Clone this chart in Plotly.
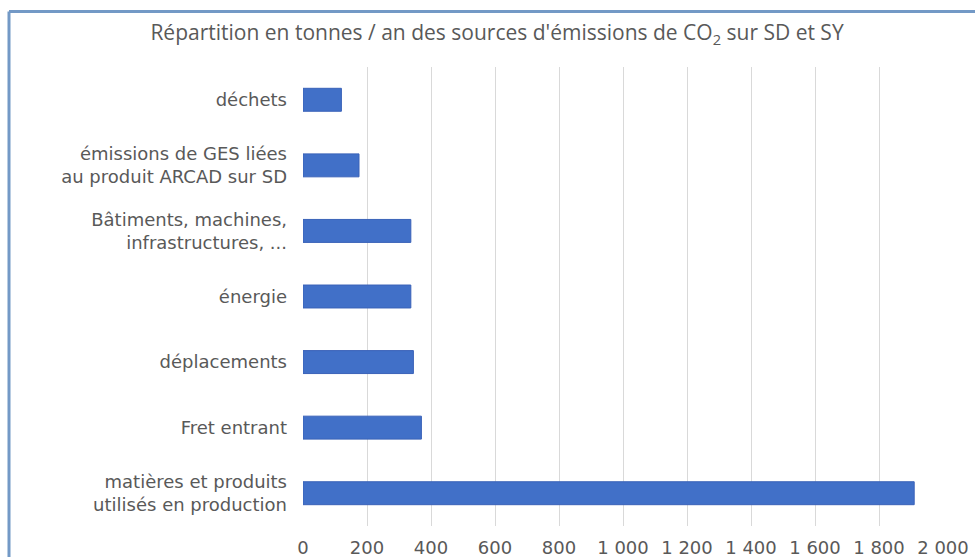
import plotly.graph_objects as go

categories = [
    "matières et produits<br>utilisés en production",
    "Fret entrant",
    "déplacements",
    "énergie",
    "Bâtiments, machines,<br>infrastructures, ...",
    "émissions de GES liées<br>au produit ARCAD sur SD",
    "déchets",
]
values = [1910, 370, 345, 337, 337, 175, 120]
tick_values = [0, 200, 400, 600, 800, 1000, 1200, 1400, 1600, 1800, 2000]
title_text = "Répartition en tonnes / an des sources d'émissions de CO<sub>2</sub> sur SD et SY"

fig = go.Figure(
    go.Bar(
        x=values,
        y=categories,
        orientation="h",
        marker=dict(color="#4170C8", line=dict(color="#3A62B8", width=1)),
    )
)

W, H = 975, 557
L, R, T, B = 303, 32, 67, 31
pw, ph = W - L - R, H - T - B

def px_x(x):
    return (x - L) / pw

def px_y(y):
    return (H - B - y) / ph

fig.update_layout(
    width=W,
    height=H,
    margin=dict(l=L, r=R, t=T, b=B),
    paper_bgcolor="white",
    plot_bgcolor="white",
    separators=", ",
    bargap=0.65,
    showlegend=False,
    font=dict(family="DejaVu Sans", color="#595959"),
    title=dict(
        text=title_text,
        x=497 / W,
        xanchor="center",
        y=1 - 33 / H,
        yanchor="middle",
        font=dict(family="Open Sans", size=21, color="#595959"),
    ),
    xaxis=dict(
        range=[0, 2000],
        tickvals=tick_values,
        tickformat=",d",
        tickangle=0,
        automargin=False,
        showgrid=True,
        gridcolor="#D9D9D9",
        gridwidth=1,
        zeroline=False,
        showline=False,
        ticks="",
        tickfont=dict(family="DejaVu Sans", size=18, color="#595959"),
        ticklabelstandoff=9,
        fixedrange=True,
    ),
    yaxis=dict(
        automargin=False,
        showgrid=False,
        zeroline=False,
        showline=False,
        ticks="",
        tickfont=dict(family="DejaVu Sans", size=18, color="#595959"),
        ticklabelstandoff=15,
        fixedrange=True,
    ),
    shapes=[
        dict(type="line", xref="paper", yref="paper",
             x0=px_x(9), x1=px_x(975), y0=px_y(11.5), y1=px_y(11.5),
             line=dict(color="#7399C6", width=3)),
        dict(type="line", xref="paper", yref="paper",
             x0=px_x(9), x1=px_x(9), y0=px_y(11.5), y1=px_y(557),
             line=dict(color="#7399C6", width=3)),
    ],
)

fig.write_html(
    "out.html",
    config={"displayModeBar": False},
    post_script="document.body.style.margin='0';document.body.style.overflow='hidden';",
)
